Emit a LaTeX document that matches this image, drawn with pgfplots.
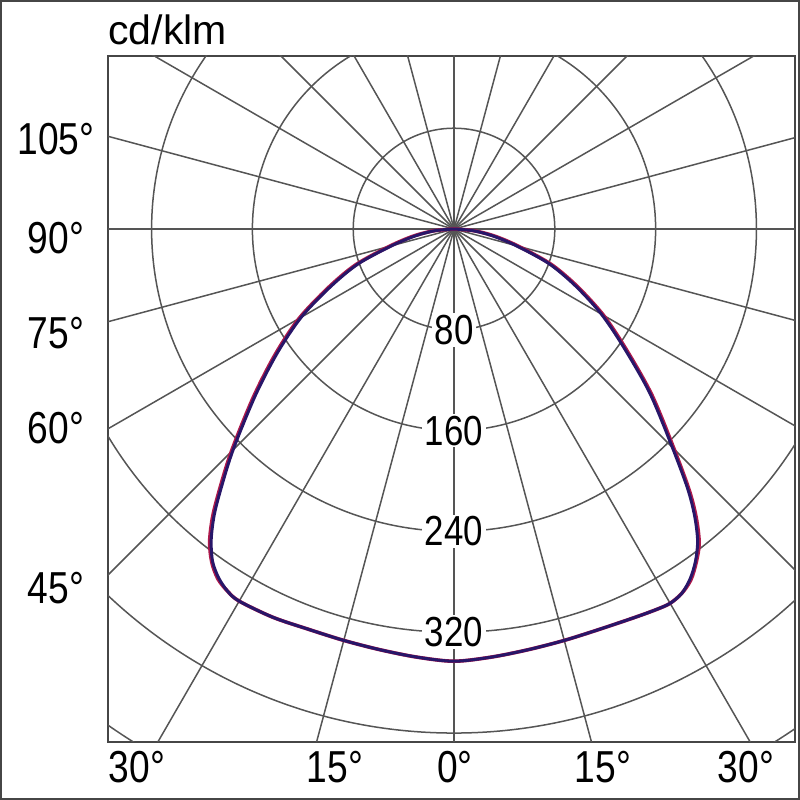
\documentclass[border=0pt]{standalone}
\usepackage{pgfplots}
\pgfplotsset{compat=1.18}
\usepackage{pgfplotstable}
\usepackage{fontspec}
\setmainfont{Liberation Sans}
\newfontfamily\numfont{Liberation Sans}[FakeStretch=0.83]

\definecolor{gridgray}{RGB}{85,85,85}
\definecolor{framegray}{RGB}{70,70,70}
\definecolor{cblue}{RGB}{40,22,105}
\definecolor{cred}{RGB}{175,25,75}

\newcommand\lab{\numfont\fontsize{22.4}{24}\selectfont}
\newcommand\inlab{\numfont\fontsize{21}{22}\selectfont}

% a = angle from nadir (negative = left half), r1 = C0-C180, r2 = C90-C270, cd/klm
\pgfplotstableread{
a    r1   r2
-90  0    0
-85  15   16
-80  31   33
-75  51   53
-70  81   83
-65  108  110
-60  140  142
-55  171  173
-50  206  208
-45  248  250
-42  276  278
-40  296  298
-38  313  315
-36  326  327
-34  334  335
-32  339  339
-30  341  341
-25  340  340
-20  338  338
-15  338  338
-10  339  339
-5   341  341
0    343  343
5    341  341
10   339  339
15   338  338
20   338  338
25   340  340
28   342  342
30   343  343
32   341  341
34   335  336
36   326  327
38   314  316
40   297  299
42   277  279
45   245  247
50   203  205
55   165  167
60   135  137
65   106  108
70   80   82
75   51   53
80   31   33
85   15   16
90   0    0
}\ldc

\begin{document}
\begin{tikzpicture}
\begin{axis}[
  at={(0,0)}, anchor=south west,
  scale only axis, width=343.5pt, height=343pt,
  xmin=-274.6, xmax=270.6, ymin=-407.1, ymax=137.3,
  xtick=\empty, ytick=\empty,
  axis line style={framegray, line width=0.75pt},
]
  % polar grid
  \pgfplotsinvokeforeach{80,160,...,560}{
    \draw[gridgray, line width=0.75pt] (axis cs:0,0) circle[radius=#1];
  }
  \pgfplotsinvokeforeach{0,15,...,345}{
    \draw[gridgray, line width=0.75pt] (axis cs:0,0) -- (axis cs:{700*sin(#1)},{-700*cos(#1)});
  }
  % ring values
  \pgfplotsinvokeforeach{80,160,240,320}{
    \node[font=\inlab, fill=white, inner xsep=1.5pt, inner ysep=1pt] at (axis cs:0,-#1) {#1};
  }
  \addplot[cred, line width=1.8pt, smooth] table[x expr={\thisrow{r2}*sin(\thisrow{a})}, y expr={-\thisrow{r2}*cos(\thisrow{a})}] {\ldc};
  \addplot[cblue, line width=1.5pt, smooth] table[x expr={\thisrow{r1}*sin(\thisrow{a})}, y expr={-\thisrow{r1}*cos(\thisrow{a})}] {\ldc};
\end{axis}

\node[font=\fontsize{20.5}{22}\selectfont, anchor=base west, inner sep=0pt] at (0pt,348.5pt) {cd/klm};
% angle labels, left
\node[font=\lab, inner sep=0pt] at (-26pt,301.5pt) {105°};
\node[font=\lab, inner sep=0pt] at (-26pt,252pt) {90°};
\node[font=\lab, inner sep=0pt] at (-26pt,204.5pt) {75°};
\node[font=\lab, inner sep=0pt] at (-26pt,157pt) {60°};
\node[font=\lab, inner sep=0pt] at (-26pt,77pt) {45°};
% angle labels, bottom
\node[font=\lab, inner sep=0pt] at (14.5pt,-12.5pt) {30°};
\node[font=\lab, inner sep=0pt] at (113.5pt,-12.5pt) {15°};
\node[font=\lab, inner sep=0pt] at (173.5pt,-12.5pt) {0°};
\node[font=\lab, inner sep=0pt] at (247.5pt,-12.5pt) {15°};
\node[font=\lab, inner sep=0pt] at (319pt,-12.5pt) {30°};
% outer border
\draw[framegray, line width=1.2pt] (-53.4pt,-28.4pt) rectangle (345.4pt,370.4pt);
\pgfresetboundingbox
\path[use as bounding box] (-54pt,-29pt) rectangle (346pt,371pt);
\end{tikzpicture}
\end{document}
